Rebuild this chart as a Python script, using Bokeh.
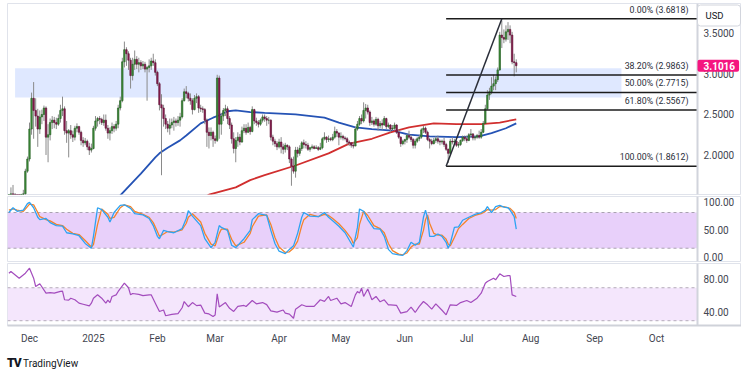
import pandas as pd
from bokeh.plotting import figure
from bokeh.models import (Range1d, FixedTicker, BoxAnnotation, Span, Label,
                          ColumnDataSource, Div)
from bokeh.layouts import column
from bokeh.core.properties import value
from bokeh.embed import file_html
from bokeh.resources import INLINE

ORIGIN = pd.Timestamp("2024-12-01")


def days(dates):
    return [(pd.Timestamp(d) - ORIGIN).days for d in dates]


# ---------------- daily XRP/USD candles (Nov 21 2024 .. Jul 25 2025) -------------
first_date = "2024-11-21"
first_open = 1.12
close = [
    # Nov 21-30
    1.45, 1.52, 1.49, 1.45, 1.44, 1.42, 1.49, 1.52, 1.80, 1.95,
    # Dec
    2.32, 2.70, 2.55, 2.48, 2.32, 2.47, 2.50, 2.58, 2.22, 2.25, 2.40, 2.43, 2.40, 2.38, 2.45, 2.55,
    2.57, 2.30, 2.27, 2.30, 2.25, 2.22, 2.33, 2.35, 2.28, 2.18, 2.15, 2.17, 2.10, 2.06, 2.08,
    # Jan
    2.33, 2.42, 2.45, 2.44, 2.40, 2.43, 2.33, 2.27, 2.30, 2.35, 2.33, 2.38, 2.58, 2.67, 3.15, 3.30,
    3.25, 3.17, 2.98, 3.12, 3.18, 3.12, 3.14, 3.10, 3.12, 3.06, 3.08, 3.10, 3.16, 3.14, 3.02,
    # Feb
    2.88, 2.62, 2.58, 2.45, 2.38, 2.33, 2.37, 2.40, 2.42, 2.40, 2.43, 2.47, 2.67, 2.78,
    2.76, 2.70, 2.67, 2.56, 2.70, 2.72, 2.58, 2.57, 2.56, 2.43, 2.28, 2.24, 2.28, 2.20,
    # Mar
    2.18, 2.95, 2.38, 2.48, 2.55, 2.57, 2.45, 2.37, 2.20, 2.08, 2.18, 2.22, 2.16, 2.30, 2.33, 2.28,
    2.34, 2.29, 2.56, 2.42, 2.40, 2.38, 2.43, 2.47, 2.45, 2.43, 2.43, 2.22, 2.17, 2.14, 2.10,
    # Apr
    2.16, 2.10, 2.07, 2.12, 2.10, 1.95, 1.86, 1.80, 2.06, 2.02, 2.08, 2.15, 2.13, 2.12, 2.07,
    2.09, 2.10, 2.08, 2.09, 2.07, 2.09, 2.20, 2.22, 2.19, 2.20, 2.19, 2.22, 2.29, 2.27, 2.22,
    # May
    2.23, 2.21, 2.20, 2.16, 2.15, 2.12, 2.11, 2.32, 2.38, 2.45, 2.42, 2.55, 2.58, 2.53, 2.40, 2.42,
    2.38, 2.44, 2.36, 2.39, 2.37, 2.45, 2.35, 2.37, 2.32, 2.33, 2.37, 2.28, 2.22, 2.14, 2.17,
    # Jun
    2.19, 2.24, 2.22, 2.19, 2.12, 2.17, 2.20, 2.22, 2.31, 2.33, 2.28, 2.19, 2.17, 2.14, 2.18,
    2.20, 2.17, 2.16, 2.17, 2.13, 2.07, 2.02, 2.17, 2.16, 2.17, 2.12, 2.13, 2.18, 2.22, 2.20,
    # Jul 1-25
    2.18, 2.25, 2.26, 2.21, 2.22, 2.24, 2.22, 2.28, 2.39, 2.57, 2.74, 2.78, 2.85,
    2.88, 2.93, 3.05, 3.48, 3.45, 3.43, 3.52, 3.55, 3.48, 3.15, 3.14, 3.1016,
]
high = [
    1.47, 1.60, 1.63, 1.53, 1.50, 1.48, 1.52, 1.57, 1.83, 1.98,
    2.40, 2.77, 2.90, 2.70, 2.57, 2.55, 2.56, 2.61, 2.60, 2.38, 2.45, 2.48, 2.47, 2.46, 2.50, 2.62,
    2.72, 2.60, 2.42, 2.32, 2.37, 2.30, 2.36, 2.39, 2.36, 2.30, 2.22, 2.21, 2.19, 2.15, 2.14,
    2.36, 2.48, 2.47, 2.48, 2.46, 2.50, 2.50, 2.37, 2.34, 2.40, 2.38, 2.42, 2.62, 2.72, 3.20, 3.40,
    3.33, 3.28, 3.20, 3.20, 3.29, 3.22, 3.20, 3.17, 3.16, 3.15, 3.10, 3.18, 3.20, 3.25, 3.18,
    3.04, 2.90, 2.75, 2.62, 2.50, 2.42, 2.45, 2.45, 2.47, 2.45, 2.48, 2.52, 2.70, 2.82,
    2.85, 2.78, 2.76, 2.70, 2.74, 2.76, 2.74, 2.62, 2.60, 2.58, 2.45, 2.34, 2.34, 2.30,
    2.24, 2.99, 2.98, 2.52, 2.58, 2.62, 2.60, 2.48, 2.40, 2.28, 2.22, 2.28, 2.26, 2.35, 2.38, 2.38,
    2.40, 2.36, 2.60, 2.57, 2.46, 2.43, 2.45, 2.50, 2.50, 2.48, 2.47, 2.44, 2.25, 2.20, 2.17,
    2.20, 2.22, 2.14, 2.15, 2.13, 2.12, 1.97, 1.98, 2.10, 2.10, 2.12, 2.17, 2.19, 2.17, 2.15,
    2.10, 2.13, 2.12, 2.12, 2.11, 2.15, 2.22, 2.28, 2.23, 2.24, 2.22, 2.26, 2.35, 2.32, 2.28,
    2.28, 2.25, 2.23, 2.22, 2.18, 2.16, 2.16, 2.35, 2.42, 2.48, 2.50, 2.65, 2.63, 2.62, 2.55, 2.47,
    2.44, 2.47, 2.46, 2.42, 2.44, 2.48, 2.46, 2.40, 2.38, 2.37, 2.40, 2.38, 2.32, 2.23, 2.19,
    2.20, 2.26, 2.30, 2.25, 2.21, 2.20, 2.22, 2.25, 2.33, 2.36, 2.35, 2.30, 2.21, 2.20, 2.21,
    2.23, 2.24, 2.19, 2.19, 2.21, 2.15, 2.08, 2.20, 2.22, 2.20, 2.18, 2.16, 2.19, 2.24, 2.24,
    2.24, 2.27, 2.32, 2.27, 2.24, 2.26, 2.30, 2.32, 2.42, 2.62, 2.80, 2.83, 2.96,
    2.99, 2.97, 3.08, 3.52, 3.66, 3.55, 3.60, 3.64, 3.60, 3.52, 3.25, 3.18,
]
low = [
    1.11, 1.41, 1.44, 1.36, 1.35, 1.34, 1.40, 1.44, 1.50, 1.78,
    1.92, 2.25, 2.20, 2.35, 2.10, 2.26, 2.38, 2.42, 2.00, 1.91, 2.18, 2.32, 2.33, 2.32, 2.36, 2.40,
    2.48, 2.25, 2.15, 1.97, 2.20, 2.16, 2.18, 2.28, 2.25, 2.12, 2.10, 2.12, 2.06, 2.00, 2.03,
    2.07, 2.30, 2.35, 2.38, 2.37, 2.36, 2.30, 2.20, 2.18, 2.26, 2.28, 2.30, 2.33, 2.55, 2.65, 3.08,
    3.10, 3.05, 2.82, 2.92, 3.05, 3.06, 3.02, 3.05, 3.06, 3.02, 2.67, 3.02, 3.05, 3.10, 2.98,
    2.85, 2.55, 1.75, 2.35, 2.32, 2.28, 2.25, 2.33, 2.30, 2.35, 2.36, 2.35, 2.45, 2.66,
    2.70, 2.66, 2.62, 2.50, 2.55, 2.64, 2.52, 2.53, 2.52, 2.38, 2.10, 2.08, 2.18, 2.10,
    2.14, 2.16, 2.20, 2.25, 2.42, 2.48, 2.38, 2.32, 2.14, 2.02, 1.91, 2.10, 2.12, 2.15, 2.27, 2.25,
    2.27, 2.25, 2.28, 2.38, 2.36, 2.34, 2.36, 2.40, 2.41, 2.36, 2.38, 2.18, 2.12, 2.10, 2.06,
    2.08, 2.02, 2.01, 2.03, 2.06, 1.90, 1.62, 1.77, 1.72, 1.97, 1.99, 2.05, 2.08, 2.08, 2.05,
    2.04, 2.07, 2.07, 2.08, 2.05, 2.06, 2.07, 2.18, 2.15, 2.16, 2.17, 2.17, 2.20, 2.22, 2.12,
    2.19, 2.18, 2.18, 2.13, 2.11, 2.09, 2.08, 2.11, 2.30, 2.36, 2.38, 2.40, 2.45, 2.50, 2.36, 2.37,
    2.35, 2.36, 2.30, 2.33, 2.31, 2.36, 2.32, 2.33, 2.28, 2.30, 2.31, 2.26, 2.20, 2.10, 2.12,
    2.13, 2.15, 2.20, 2.16, 2.08, 2.08, 2.15, 2.17, 2.20, 2.27, 2.26, 2.17, 2.08, 2.12, 2.13,
    2.15, 2.14, 2.12, 2.13, 2.10, 2.05, 1.90, 2.00, 2.13, 2.13, 2.10, 2.09, 2.11, 2.16, 2.17,
    2.15, 2.17, 2.22, 2.18, 2.18, 2.20, 2.20, 2.20, 2.27, 2.39, 2.56, 2.68, 2.75,
    2.80, 2.80, 2.90, 3.04, 3.32, 3.38, 3.40, 3.42, 3.38, 3.12, 2.97, 3.02,
]

# ---------------- moving averages --------------------------------------------------
sma100_dates = ["2025-01-11", "2025-01-14", "2025-01-21", "2025-01-24", "2025-01-31", "2025-02-02",
                "2025-02-06", "2025-02-12", "2025-02-15", "2025-02-22", "2025-02-28", "2025-03-03",
                "2025-03-07", "2025-03-11", "2025-03-18", "2025-03-25", "2025-04-09", "2025-04-23",
                "2025-04-30", "2025-05-08", "2025-05-16", "2025-05-26", "2025-06-03", "2025-06-13",
                "2025-06-26", "2025-07-07", "2025-07-13", "2025-07-20", "2025-07-25"]
sma100 = [1.44, 1.50, 1.69, 1.77, 1.97, 2.02, 2.09, 2.18, 2.24, 2.39, 2.46, 2.49, 2.54, 2.55, 2.53,
          2.52, 2.50, 2.46, 2.40, 2.34, 2.32, 2.30, 2.25, 2.23, 2.22, 2.23, 2.27, 2.33, 2.39]
sma200_dates = ["2025-02-24", "2025-02-26", "2025-03-11", "2025-03-18", "2025-03-25", "2025-04-09",
                "2025-04-25", "2025-05-05", "2025-05-16", "2025-05-25", "2025-06-03", "2025-06-15",
                "2025-06-26", "2025-07-08", "2025-07-17", "2025-07-25"]
sma200 = [1.48, 1.51, 1.60, 1.69, 1.75, 1.87, 2.02, 2.14, 2.20, 2.28, 2.34, 2.39, 2.38, 2.38,
          2.40, 2.44]

# ---------------- Fibonacci retracement + zone -----------------------------------
fib_start, fib_end = "2025-06-21", "2025-07-18"
fib_low, fib_high = 1.8612, 3.6818
fib_ratios = [0.0, 0.382, 0.5, 0.618, 1.0]
zone_start, zone_end = "2024-11-24", "2025-09-14"
zone_low, zone_high = 2.71, 3.07

# ---------------- Stoch RSI -------------------------------------------------------
stoch_dates = ["2024-11-21", "2024-11-23", "2024-11-25", "2024-11-28", "2024-11-30", "2024-12-01",
               "2024-12-03", "2024-12-05", "2024-12-06", "2024-12-09", "2024-12-11", "2024-12-14",
               "2024-12-17", "2024-12-19", "2024-12-22", "2024-12-25", "2024-12-28", "2024-12-31",
               "2025-01-01", "2025-01-03", "2025-01-05", "2025-01-08", "2025-01-09", "2025-01-11",
               "2025-01-14", "2025-01-16", "2025-01-19", "2025-01-21", "2025-01-25", "2025-01-28",
               "2025-01-30", "2025-02-01", "2025-02-02", "2025-02-04", "2025-02-06", "2025-02-09",
               "2025-02-13", "2025-02-15", "2025-02-16", "2025-02-18", "2025-02-22", "2025-02-24",
               "2025-02-27", "2025-03-01", "2025-03-03", "2025-03-04", "2025-03-07", "2025-03-09",
               "2025-03-11", "2025-03-15", "2025-03-18", "2025-03-19", "2025-03-22", "2025-03-26",
               "2025-03-28", "2025-03-30", "2025-04-01", "2025-04-04", "2025-04-06", "2025-04-08",
               "2025-04-10", "2025-04-12", "2025-04-13", "2025-04-16", "2025-04-20", "2025-04-23",
               "2025-04-25", "2025-04-27", "2025-04-30", "2025-05-03", "2025-05-06", "2025-05-07",
               "2025-05-09", "2025-05-10", "2025-05-12", "2025-05-14", "2025-05-17", "2025-05-20",
               "2025-05-22", "2025-05-24", "2025-05-26", "2025-05-29", "2025-05-31", "2025-06-02",
               "2025-06-04", "2025-06-06", "2025-06-08", "2025-06-10", "2025-06-11", "2025-06-12",
               "2025-06-13", "2025-06-15", "2025-06-17", "2025-06-19", "2025-06-21", "2025-06-22",
               "2025-06-23", "2025-06-25", "2025-06-27", "2025-06-29", "2025-07-02", "2025-07-05",
               "2025-07-08", "2025-07-10", "2025-07-11", "2025-07-13", "2025-07-15", "2025-07-17",
               "2025-07-19", "2025-07-21", "2025-07-22", "2025-07-24", "2025-07-25"]
stoch_k = [80, 88, 82, 84, 95, 97, 88, 72, 68, 70, 63, 58, 57, 46, 44, 41, 28, 20,
           40, 88, 85, 72, 64, 80, 92, 93, 87, 78, 76, 70, 58, 40, 36, 50, 48, 46,
           53, 70, 83, 74, 58, 36, 21, 30, 58, 55, 50, 25, 21, 36, 50, 68, 78, 75,
           50, 28, 15, 11, 18, 24, 45, 72, 80, 74, 73, 80, 72, 66, 57, 46, 28, 22,
           55, 86, 82, 68, 53, 52, 40, 18, 11, 9, 8, 16, 30, 25, 30, 72, 84, 70,
           40, 40, 44, 40, 30, 20, 28, 55, 56, 67, 72, 77, 80, 84, 90, 80, 90, 92,
           89, 88, 84, 73, 52]
stoch_d = [84, 86, 84, 82, 90, 94, 93, 80, 73, 68, 66, 60, 58, 52, 45, 43, 33, 22,
           26, 60, 86, 77, 70, 72, 88, 93, 90, 82, 77, 72, 63, 48, 40, 44, 48, 47,
           51, 62, 72, 78, 64, 45, 27, 24, 45, 52, 52, 35, 24, 30, 45, 56, 74, 76,
           60, 38, 22, 13, 14, 20, 32, 58, 68, 77, 73, 77, 75, 70, 61, 50, 36, 28,
           38, 60, 82, 75, 58, 53, 46, 28, 16, 10, 9, 12, 22, 27, 27, 50, 68, 76,
           62, 45, 42, 42, 35, 27, 24, 38, 53, 60, 70, 75, 78, 82, 85, 84, 85, 90,
           90, 88, 87, 80, 70]

# ---------------- RSI -------------------------------------------------------------
rsi_dates = ["2024-11-21", "2024-11-22", "2024-11-26", "2024-11-29", "2024-12-01", "2024-12-03",
             "2024-12-04", "2024-12-06", "2024-12-09", "2024-12-11", "2024-12-13", "2024-12-16",
             "2024-12-17", "2024-12-18", "2024-12-20", "2024-12-21", "2024-12-23", "2024-12-25",
             "2024-12-27", "2024-12-30", "2024-12-31", "2025-01-01", "2025-01-03", "2025-01-05",
             "2025-01-07", "2025-01-08", "2025-01-09", "2025-01-10", "2025-01-12", "2025-01-13",
             "2025-01-15", "2025-01-16", "2025-01-18", "2025-01-19", "2025-01-20", "2025-01-23",
             "2025-01-25", "2025-01-28", "2025-01-29", "2025-01-31", "2025-02-02", "2025-02-04",
             "2025-02-05", "2025-02-08", "2025-02-11", "2025-02-13", "2025-02-14", "2025-02-16",
             "2025-02-18", "2025-02-20", "2025-02-22", "2025-02-24", "2025-02-26", "2025-02-28",
             "2025-03-01", "2025-03-02", "2025-03-03", "2025-03-04", "2025-03-06", "2025-03-08",
             "2025-03-10", "2025-03-12", "2025-03-15", "2025-03-16", "2025-03-19", "2025-03-21",
             "2025-03-24", "2025-03-26", "2025-03-28", "2025-03-31", "2025-04-03", "2025-04-04",
             "2025-04-06", "2025-04-08", "2025-04-09", "2025-04-12", "2025-04-14", "2025-04-18",
             "2025-04-21", "2025-04-23", "2025-04-25", "2025-04-26", "2025-04-29", "2025-05-01",
             "2025-05-03", "2025-05-06", "2025-05-08", "2025-05-09", "2025-05-10", "2025-05-11",
             "2025-05-12", "2025-05-14", "2025-05-16", "2025-05-18", "2025-05-20", "2025-05-22",
             "2025-05-24", "2025-05-25", "2025-05-28", "2025-05-30", "2025-06-02", "2025-06-04",
             "2025-06-06", "2025-06-08", "2025-06-10", "2025-06-12", "2025-06-14", "2025-06-16",
             "2025-06-19", "2025-06-21", "2025-06-23", "2025-06-26", "2025-06-28", "2025-07-01",
             "2025-07-03", "2025-07-06", "2025-07-08", "2025-07-10", "2025-07-11", "2025-07-14",
             "2025-07-15", "2025-07-17", "2025-07-19", "2025-07-21", "2025-07-22", "2025-07-23",
             "2025-07-25"]
rsi = [87.6, 89.7, 81.6, 87.6, 93.7, 81.6, 71.5, 74.8, 63.4, 64.0, 63.4, 65.5, 66.0, 55.4,
       55.0, 57.3, 55.4, 51.3, 50.0, 48.0, 51.3, 57.3, 61.4, 57.3, 51.3, 55.0, 52.0, 59.4,
       61.4, 65.5, 72.3, 75.5, 70.0, 61.4, 63.0, 62.0, 60.5, 61.4, 61.4, 51.3, 41.2, 43.0,
       36.0, 37.6, 38.5, 45.7, 53.3, 47.0, 52.0, 48.3, 49.0, 39.2, 38.2, 35.2, 37.0, 62.6,
       46.7, 48.5, 52.0, 45.0, 41.2, 47.3, 48.5, 47.3, 54.5, 50.5, 52.0, 49.5, 42.0, 40.4,
       43.0, 39.2, 38.0, 33.0, 44.0, 49.3, 47.5, 47.5, 55.4, 53.5, 59.4, 54.5, 57.3, 50.5,
       52.0, 47.3, 61.4, 65.5, 63.5, 69.5, 59.4, 68.5, 55.4, 59.4, 52.9, 55.4, 49.3, 49.3,
       48.5, 39.2, 41.0, 46.4, 40.0, 47.3, 53.3, 49.3, 44.0, 50.5, 42.7, 37.2, 49.3, 48.5,
       52.0, 54.5, 52.0, 57.3, 63.4, 75.5, 77.6, 81.6, 79.6, 86.9, 83.6, 84.6, 84.6, 61.4,
       59.4]

# ---------------- axis ticks -------------------------------------------------------
month_starts = ["2024-12-01", "2025-01-01", "2025-02-01", "2025-03-01", "2025-04-01", "2025-05-01",
                "2025-06-01", "2025-07-01", "2025-08-01", "2025-09-01", "2025-10-01"]
month_labels = ["Dec", "2025", "Feb", "Mar", "Apr", "May", "Jun", "Jul", "Aug", "Sep", "Oct"]
price_ticks = [2.0, 2.5, 3.0, 3.5]
stoch_ticks = [0, 50, 100]
rsi_ticks = [40, 80]
stoch_bands = (20, 80)
rsi_bands = (30, 70)
last_price = close[-1]
currency = "USD"

# ======================= build =====================================================
assert len(close) == len(high) == len(low) == 247
cdates = pd.date_range(first_date, periods=len(close), freq="D")
cx = [(d - ORIGIN).days for d in cdates]
copen = [first_open] + close[:-1]
up = [c >= o for o, c in zip(copen, close)]

FONT = "Roboto"
TXT = "#434651"
W = 734            # frame width incl. price-scale strip
PX_DAY = 2.0625
X0 = -10.67
AXIS_PX = 690      # price-scale separator, px from frame left
xr = Range1d(X0, X0 + W / PX_DAY)
AXIS_X = X0 + AXIS_PX / PX_DAY

main_yr = Range1d(1.512, 3.870)
stoch_yr = Range1d(-2.3, 106.9)
rsi_yr = Range1d(24.2, 99.4)


def make_fig(h, yr, top, bottom, xaxis=False):
    p = figure(width=W, height=h, x_range=xr, y_range=yr, output_backend="svg",
               toolbar_location=None, tools="", y_axis_location=None,
               x_axis_location="below" if xaxis else None,
               min_border_left=0, min_border_right=0,
               min_border_top=top, min_border_bottom=bottom)
    p.grid.visible = False
    p.outline_line_color = "#e0e3eb"
    p.background_fill_color = "white"
    p.border_fill_color = "white"
    p.add_layout(Span(location=AXIS_X, dimension="height", line_color="#d1d4dc",
                      line_width=2))
    return p


def scale_labels(p, ticks, fmt, offsets=None):
    offs = offsets if offsets is not None else [0] * len(ticks)
    p.text(x=[AXIS_X] * len(ticks), y=ticks, text=[fmt.format(t) for t in ticks],
           x_offset=6, y_offset=offs, text_align="left", text_baseline="middle",
           text_font=value(FONT), text_font_size="10px", text_color=TXT)


# ---- main price panel ----
pm = make_fig(193, main_yr, 0, 2)
pm.add_layout(BoxAnnotation(left=days([zone_start])[0], right=days([zone_end])[0],
                            bottom=zone_low, top=zone_high, fill_color="#2962ff",
                            fill_alpha=0.15, line_color=None, level="underlay"))

pm.line(days(sma100_dates), sma100, line_color="#2553b5", line_width=1.8)
pm.line(days(sma200_dates), sma200, line_color="#d12f2f", line_width=1.8)

csrc = ColumnDataSource(dict(
    x=cx, open=copen, close=close, high=high, low=low,
    top=[max(o, c) for o, c in zip(copen, close)],
    bottom=[min(o, c) for o, c in zip(copen, close)],
    fill=["#3f8f3a" if u else "#8c1d50" for u in up],
    edge=["#245c22" if u else "#5c1034" for u in up],
))
pm.segment(x0="x", y0="high", x1="x", y1="low", source=csrc, line_color="#8a8a8a", line_width=1)
pm.vbar(x="x", top="top", bottom="bottom", width=0.72, source=csrc,
        fill_color="fill", line_color="edge", line_width=0.6)

fx0 = days([fib_start])[0]
fx1 = days([fib_end])[0]
fib_levels = [fib_high - r * (fib_high - fib_low) for r in fib_ratios]
fib_text = [f"{r * 100:.2f}% ({v:.4f})" for r, v in zip(fib_ratios, fib_levels)]
n = len(fib_levels)
pm.segment(x0=[fx0] * n, y0=fib_levels, x1=[AXIS_X] * n, y1=fib_levels,
           line_color="#1c1c1c", line_width=1.5)
pm.line([fx0, fx1], [fib_low, fib_high], line_color="#2a2e39", line_width=1.5)
pm.text(x=[AXIS_X] * n, y=fib_levels, text=fib_text, y_offset=-9.2,
        x_offset=-9, text_align="right", text_baseline="middle",
        text_font=value(FONT), text_font_size="8.8px", text_color="#2a2e39")

scale_labels(pm, price_ticks, "{:.4f}")

px_per_unit = 191 / (main_yr.end - main_yr.start)
pm.add_layout(Label(x=AXIS_X, y=main_yr.end - 12 / px_per_unit, text=currency, x_offset=0,
                    text_align="left", text_baseline="middle", text_font=FONT,
                    text_font_size="9.5px", text_color="#131722",
                    background_fill_color="white", border_line_color="#d1d4dc",
                    border_radius=3, padding=dict(left=8, right=17, top=5, bottom=5)))
pm.add_layout(Label(x=AXIS_X, y=last_price, text=f"{last_price:.4f}", x_offset=0,
                    text_align="left", text_baseline="middle", text_font=FONT,
                    text_font_size="10px", text_font_style="bold", text_color="white",
                    background_fill_color="#f5157f", border_radius=2,
                    padding=dict(left=6, right=4, top=2, bottom=2)))

# ---- stoch RSI panel ----
ps = make_fig(66, stoch_yr, 0, 1)
ps.add_layout(BoxAnnotation(bottom=stoch_bands[0], top=stoch_bands[1], right=AXIS_X,
                            fill_color="#e8d0fa", fill_alpha=1, line_color=None,
                            level="underlay"))
for b in stoch_bands:
    ps.segment(x0=[xr.start], y0=[b], x1=[AXIS_X], y1=[b], line_color="#a9a2b0",
               line_dash="3 3", line_width=1)
ps.line(days(stoch_dates), stoch_d, line_color="#f5832a", line_width=1.3)
ps.line(days(stoch_dates), stoch_k, line_color="#2ea3f2", line_width=1.3)
scale_labels(ps, stoch_ticks, "{:.2f}", offsets=[-3.5, 0, 1])

# ---- RSI panel ----
pr = make_fig(88, rsi_yr, 1, 25, xaxis=True)
pr.add_layout(BoxAnnotation(bottom=rsi_bands[0], top=rsi_bands[1], right=AXIS_X,
                            fill_color="#f4e6fc", fill_alpha=1, line_color=None,
                            level="underlay"))
for b in rsi_bands:
    pr.segment(x0=[xr.start], y0=[b], x1=[AXIS_X], y1=[b], line_color="#b3abb9",
               line_dash="3 3", line_width=1)
pr.line(days(rsi_dates), rsi, line_color="#a34cbd", line_width=1.2)
scale_labels(pr, rsi_ticks, "{:.2f}")

mticks = days(month_starts)
xa = pr.xaxis[0]
xa.ticker = FixedTicker(ticks=mticks)
xa.major_label_overrides = {t: lab for t, lab in zip(mticks, month_labels)}
xa.axis_line_color = "#cfd2d9"
xa.axis_line_width = 2
xa.major_tick_line_color = None
xa.minor_tick_line_color = None
xa.major_tick_out = 0
xa.major_label_standoff = 7
xa.major_label_text_font = FONT
xa.major_label_text_font_size = "10px"
xa.major_label_text_color = TXT

logo = Div(text='<span style="font-weight:900;font-size:12px;letter-spacing:-1px;'
                'color:#131722">TV</span>&nbsp;<span style="color:#131722">TradingView</span>',
           width=200, height=18, margin=(6, 0, 0, 0),
           styles={"font-family": "Roboto", "font-size": "10px", "line-height": "14px"})

layout = column(pm, ps, pr, logo, spacing=0, margin=(3, 0, 0, 7))
open("out.html", "w").write(file_html(layout, INLINE))
